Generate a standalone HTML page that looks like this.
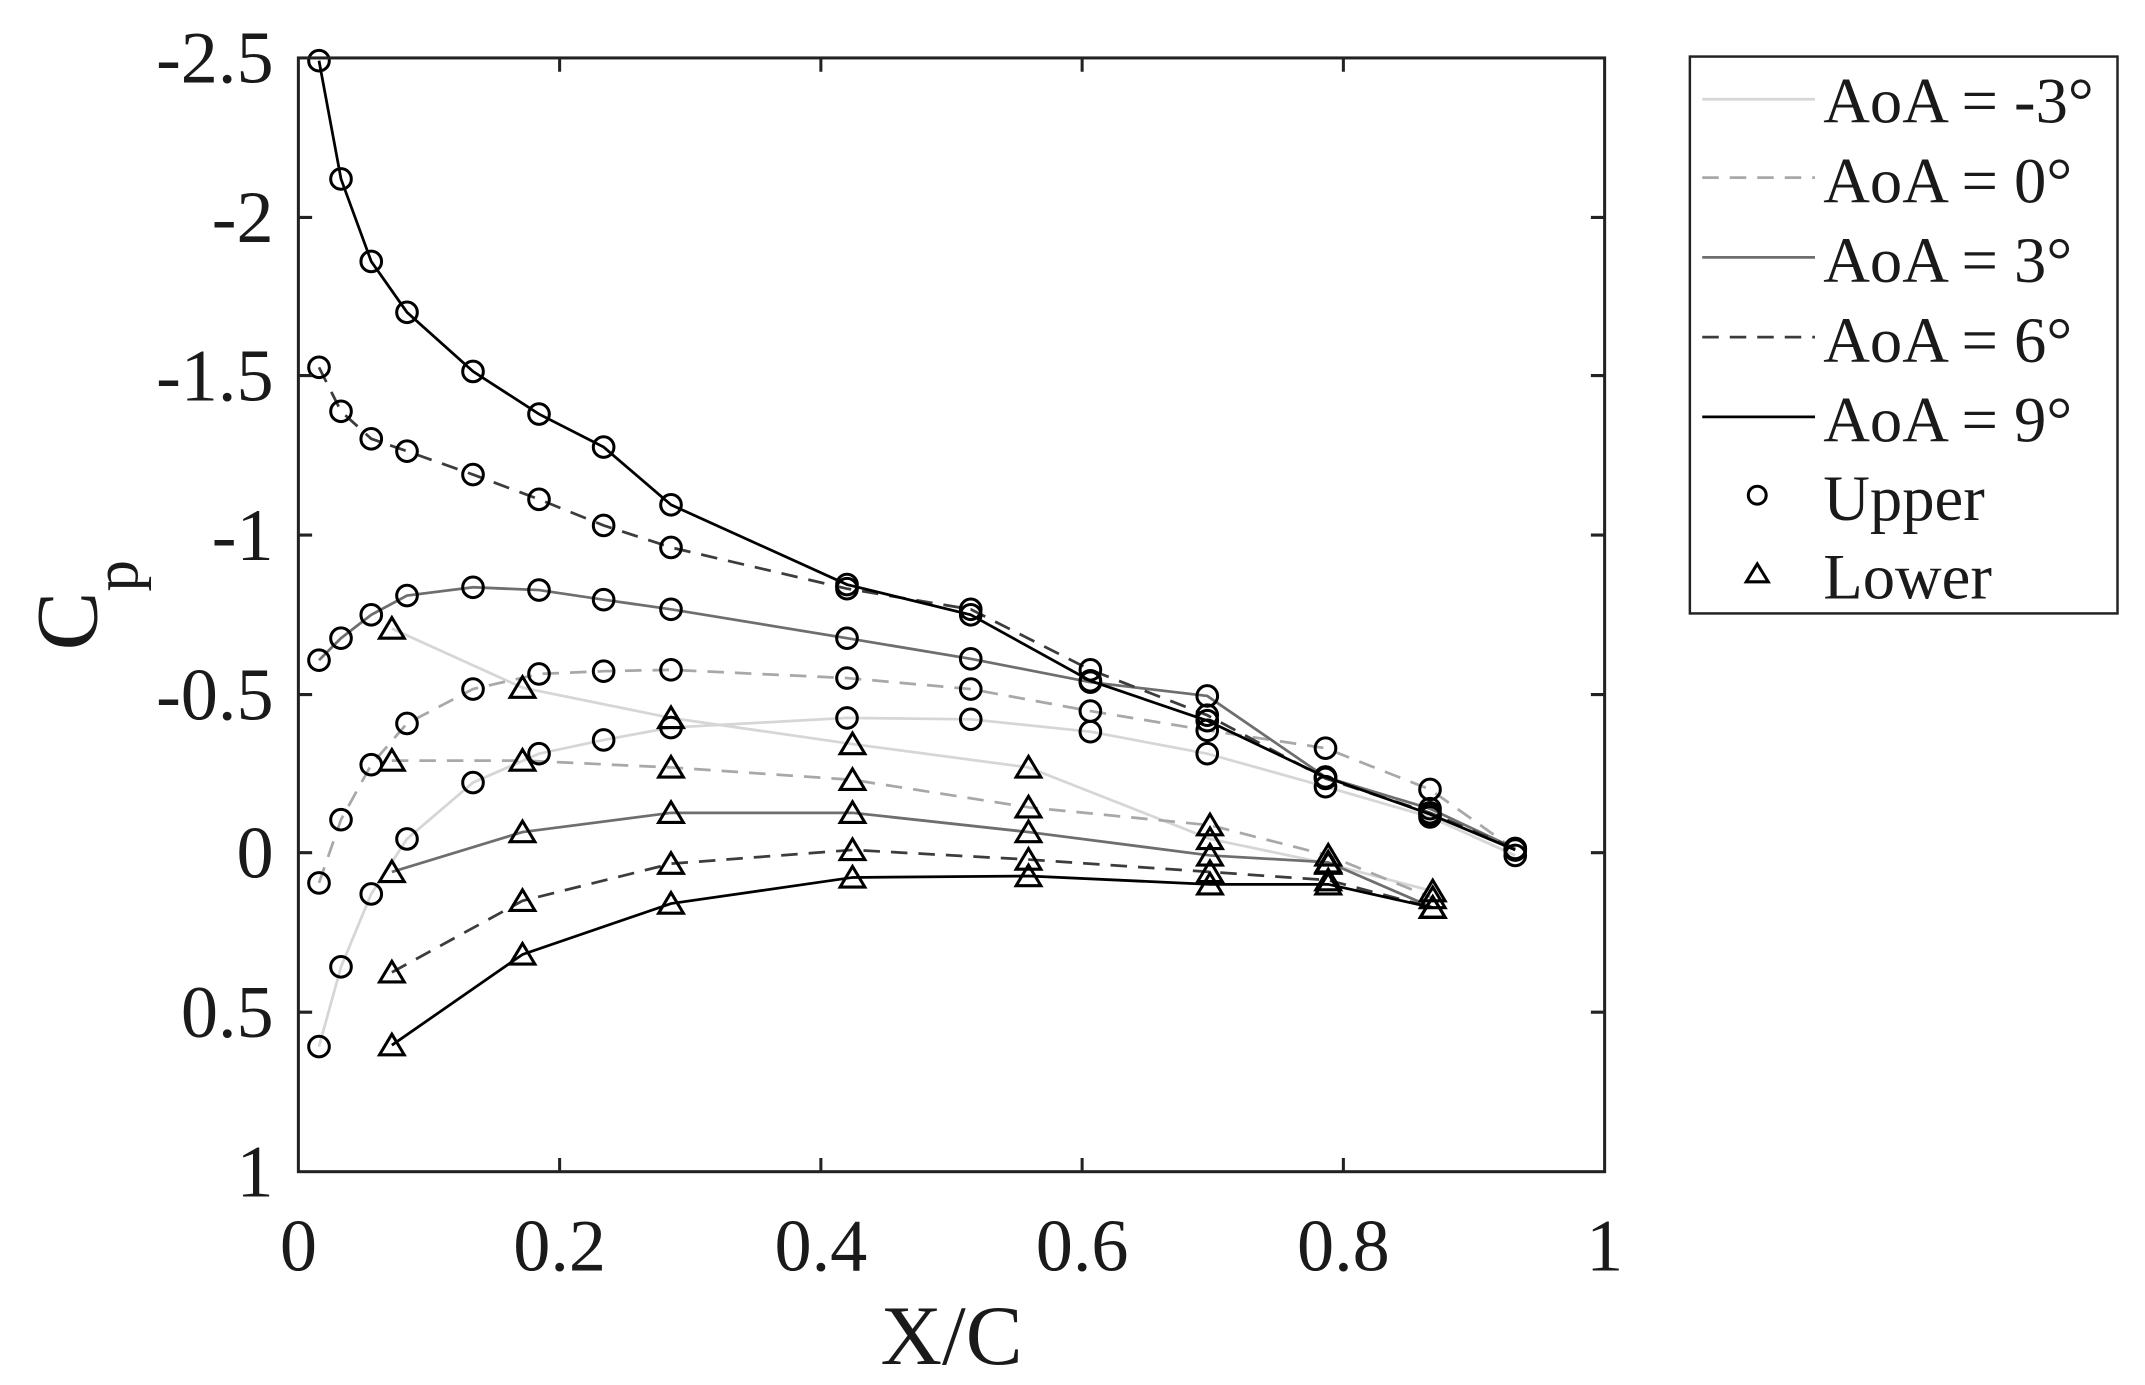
<!DOCTYPE html>
<html><head><meta charset="utf-8"><style>
html,body{margin:0;padding:0;background:#fff;}
svg{display:block;}
text{font-family:"Liberation Serif","DejaVu Serif",serif;fill:#1a1a1a;}
</style></head><body>
<svg width="2145" height="1385" viewBox="0 0 1560 1007" xmlns="http://www.w3.org/2000/svg">
<rect width="1560" height="1007" fill="#fff"/>
<g id="series" fill="none" stroke-width="2">
<polyline stroke="#d6d6d6" points="232,761 248,703 270,650 296,610 344,569 392,548 439,538 488,529 616,522 706,523 793,532 878,548 964,572 1040,594 1102,622"/>
<polyline stroke="#d6d6d6" points="285,457 380,500 488,522 620,541 748,558 880,610 966,628 1042,648"/>
<polyline stroke="#a8a8a8" stroke-dasharray="12,8" points="232,642 248,596 270,556 296,526 344,501 392,490 439,488 488,487 616,493 706,501 793,517 878,531 964,544 1040,574 1102,618"/>
<polyline stroke="#a8a8a8" stroke-dasharray="12,8" points="285,553 380,553 488,558 620,567 748,587 880,600 966,622 1042,653"/>
<polyline stroke="#6e6e6e" points="232,480 248,464 270,447 296,433 344,427 392,429 439,436 488,443 616,464 706,479 793,496 878,506 964,565 1040,588 1102,617"/>
<polyline stroke="#6e6e6e" points="285,634 380,605 488,591 620,591 748,605 880,622 966,627 1042,660"/>
<polyline stroke="#3c3c3c" stroke-dasharray="12,8" points="232,267 248,299 270,319 296,328 344,345 392,363 439,382 488,398 616,428 706,443 793,487 878,520 964,566 1040,591 1102,617"/>
<polyline stroke="#3c3c3c" stroke-dasharray="12,8" points="285,707 380,655 488,628 620,618 748,625 880,634 966,640 1042,660"/>
<polyline stroke="#000" points="232,44 248,130 270,190 296,227 344,270 392,301 439,325 488,367 616,425 706,447 793,495 878,524 964,565 1040,592 1102,618"/>
<polyline stroke="#000" points="285,760 380,694 488,657 620,638 748,637 880,643 966,643 1042,660"/>
</g>
<g fill="none" stroke="#000" stroke-width="2.2">
<g>
<circle cx="232" cy="761" r="7.5"/><circle cx="248" cy="703" r="7.5"/><circle cx="270" cy="650" r="7.5"/><circle cx="296" cy="610" r="7.5"/><circle cx="344" cy="569" r="7.5"/><circle cx="392" cy="548" r="7.5"/><circle cx="439" cy="538" r="7.5"/><circle cx="488" cy="529" r="7.5"/><circle cx="616" cy="522" r="7.5"/><circle cx="706" cy="523" r="7.5"/><circle cx="793" cy="532" r="7.5"/><circle cx="878" cy="548" r="7.5"/><circle cx="964" cy="572" r="7.5"/><circle cx="1040" cy="594" r="7.5"/><circle cx="1102" cy="622" r="7.5"/>
<circle cx="232" cy="642" r="7.5"/><circle cx="248" cy="596" r="7.5"/><circle cx="270" cy="556" r="7.5"/><circle cx="296" cy="526" r="7.5"/><circle cx="344" cy="501" r="7.5"/><circle cx="392" cy="490" r="7.5"/><circle cx="439" cy="488" r="7.5"/><circle cx="488" cy="487" r="7.5"/><circle cx="616" cy="493" r="7.5"/><circle cx="706" cy="501" r="7.5"/><circle cx="793" cy="517" r="7.5"/><circle cx="878" cy="531" r="7.5"/><circle cx="964" cy="544" r="7.5"/><circle cx="1040" cy="574" r="7.5"/><circle cx="1102" cy="618" r="7.5"/>
<circle cx="232" cy="480" r="7.5"/><circle cx="248" cy="464" r="7.5"/><circle cx="270" cy="447" r="7.5"/><circle cx="296" cy="433" r="7.5"/><circle cx="344" cy="427" r="7.5"/><circle cx="392" cy="429" r="7.5"/><circle cx="439" cy="436" r="7.5"/><circle cx="488" cy="443" r="7.5"/><circle cx="616" cy="464" r="7.5"/><circle cx="706" cy="479" r="7.5"/><circle cx="793" cy="496" r="7.5"/><circle cx="878" cy="506" r="7.5"/><circle cx="964" cy="565" r="7.5"/><circle cx="1040" cy="588" r="7.5"/><circle cx="1102" cy="617" r="7.5"/>
<circle cx="232" cy="267" r="7.5"/><circle cx="248" cy="299" r="7.5"/><circle cx="270" cy="319" r="7.5"/><circle cx="296" cy="328" r="7.5"/><circle cx="344" cy="345" r="7.5"/><circle cx="392" cy="363" r="7.5"/><circle cx="439" cy="382" r="7.5"/><circle cx="488" cy="398" r="7.5"/><circle cx="616" cy="428" r="7.5"/><circle cx="706" cy="443" r="7.5"/><circle cx="793" cy="487" r="7.5"/><circle cx="878" cy="520" r="7.5"/><circle cx="964" cy="566" r="7.5"/><circle cx="1040" cy="591" r="7.5"/><circle cx="1102" cy="617" r="7.5"/>
<circle cx="232" cy="44" r="7.5"/><circle cx="248" cy="130" r="7.5"/><circle cx="270" cy="190" r="7.5"/><circle cx="296" cy="227" r="7.5"/><circle cx="344" cy="270" r="7.5"/><circle cx="392" cy="301" r="7.5"/><circle cx="439" cy="325" r="7.5"/><circle cx="488" cy="367" r="7.5"/><circle cx="616" cy="425" r="7.5"/><circle cx="706" cy="447" r="7.5"/><circle cx="793" cy="495" r="7.5"/><circle cx="878" cy="524" r="7.5"/><circle cx="964" cy="565" r="7.5"/><circle cx="1040" cy="592" r="7.5"/><circle cx="1102" cy="618" r="7.5"/>
</g>
<g stroke-linejoin="miter">
<path d="M285,449 l-9,15 h18 z M380,492 l-9,15 h18 z M488,514 l-9,15 h18 z M620,533 l-9,15 h18 z M748,550 l-9,15 h18 z M880,602 l-9,15 h18 z M966,620 l-9,15 h18 z M1042,640 l-9,15 h18 z"/>
<path d="M285,545 l-9,15 h18 z M380,545 l-9,15 h18 z M488,550 l-9,15 h18 z M620,559 l-9,15 h18 z M748,579 l-9,15 h18 z M880,592 l-9,15 h18 z M966,614 l-9,15 h18 z M1042,645 l-9,15 h18 z"/>
<path d="M285,626 l-9,15 h18 z M380,597 l-9,15 h18 z M488,583 l-9,15 h18 z M620,583 l-9,15 h18 z M748,597 l-9,15 h18 z M880,614 l-9,15 h18 z M966,619 l-9,15 h18 z M1042,652 l-9,15 h18 z"/>
<path d="M285,699 l-9,15 h18 z M380,647 l-9,15 h18 z M488,620 l-9,15 h18 z M620,610 l-9,15 h18 z M748,617 l-9,15 h18 z M880,626 l-9,15 h18 z M966,632 l-9,15 h18 z M1042,652 l-9,15 h18 z"/>
<path d="M285,752 l-9,15 h18 z M380,686 l-9,15 h18 z M488,649 l-9,15 h18 z M620,630 l-9,15 h18 z M748,629 l-9,15 h18 z M880,635 l-9,15 h18 z M966,635 l-9,15 h18 z M1042,652 l-9,15 h18 z"/>
</g>
</g>
<g stroke="#222" stroke-width="2.2" fill="none">
<rect x="217" y="42" width="950" height="810"/>
<path d="M407,852v-10M597,852v-10M787,852v-10M977,852v-10M407,42v10M597,42v10M787,42v10M977,42v10
M217,158h10M217,273h10M217,389h10M217,505h10M217,620h10M217,736h10
M1167,158h-10M1167,273h-10M1167,389h-10M1167,505h-10M1167,620h-10M1167,736h-10"/>
</g>
<g font-size="54" text-anchor="end">
<text x="199" y="60">-2.5</text><text x="199" y="176">-2</text><text x="199" y="291">-1.5</text><text x="199" y="407">-1</text><text x="199" y="523">-0.5</text><text x="199" y="638">0</text><text x="199" y="754">0.5</text><text x="199" y="870">1</text>
</g>
<g font-size="54" text-anchor="middle">
<text x="217" y="924">0</text><text x="407" y="924">0.2</text><text x="597" y="924">0.4</text><text x="787" y="924">0.6</text><text x="977" y="924">0.8</text><text x="1167" y="924">1</text>
</g>
<text x="692" y="992" font-size="62" text-anchor="middle">X/C</text>
<g transform="translate(70,440) rotate(-90)"><text x="0" y="0" font-size="64" text-anchor="middle">C<tspan font-size="46" dy="30">p</tspan></text></g>
<rect x="1229" y="41" width="311" height="405" fill="#fff" stroke="#222" stroke-width="1.8"/>
<g stroke-width="2">
<line x1="1238" y1="72" x2="1320" y2="72" stroke="#d6d6d6"/>
<line x1="1238" y1="129" x2="1320" y2="129" stroke="#a8a8a8" stroke-dasharray="12,8"/>
<line x1="1238" y1="187" x2="1320" y2="187" stroke="#6e6e6e"/>
<line x1="1238" y1="245" x2="1320" y2="245" stroke="#3c3c3c" stroke-dasharray="12,8"/>
<line x1="1238" y1="303" x2="1320" y2="303" stroke="#000"/>
</g>
<circle cx="1278" cy="360" r="6.5" fill="none" stroke="#000" stroke-width="2.2"/>
<path d="M1278,410 l-8,13 h16 z" fill="none" stroke="#000" stroke-width="2.2"/>
<g font-size="47">
<text x="1326" y="89">AoA = -3°</text>
<text x="1326" y="147">AoA = 0°</text>
<text x="1326" y="205">AoA = 3°</text>
<text x="1326" y="263">AoA = 6°</text>
<text x="1326" y="321">AoA = 9°</text>
<text x="1326" y="378">Upper</text>
<text x="1326" y="435">Lower</text>
</g>
</svg>
</body></html>
